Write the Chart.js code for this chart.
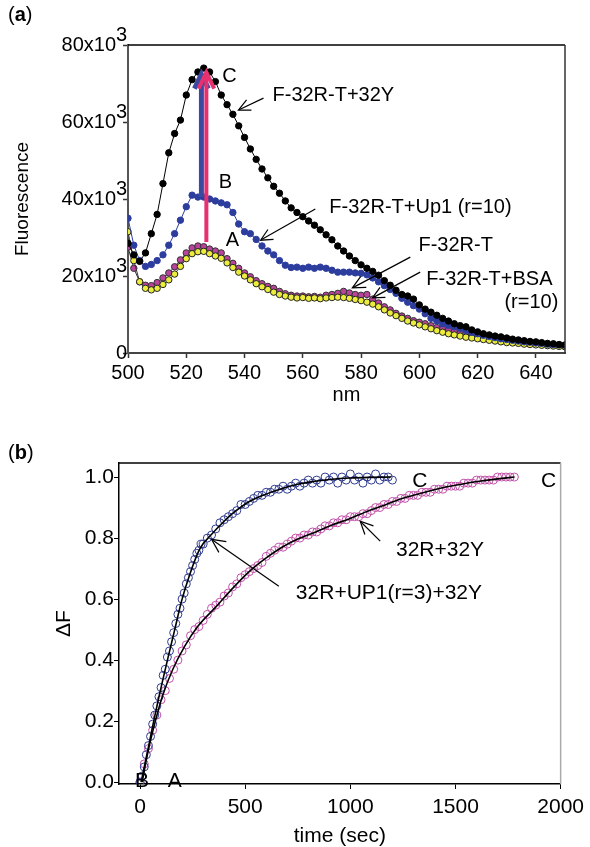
<!DOCTYPE html>
<html>
<head>
<meta charset="utf-8">
<script src="https://cdn.jsdelivr.net/npm/chart.js@4.4.1/dist/chart.umd.min.js"></script>
<style>
  body { margin: 0; background: #fff; }
  canvas { display: block; }
</style>
</head>
<body>
<canvas id="chartA" width="590" height="420"></canvas>
<canvas id="chartB" width="590" height="427"></canvas>
<script>
const FONT = '"Liberation Sans", Arial, sans-serif';

// ---- panel (a): emission spectra ----
const wavelengths = [
  500, 502, 504, 506, 508, 510, 512, 514, 516, 518,
  520, 522, 524, 526, 528, 530, 532, 534, 536, 538,
  540, 542, 544, 546, 548, 550, 552, 554, 556, 558,
  560, 562, 564, 566, 568, 570, 572, 574, 576, 578,
  580, 582, 584, 586, 588, 590, 592, 594, 596, 598,
  600, 602, 604, 606, 608, 610, 612, 614, 616, 618,
  620, 622, 624, 626, 628, 630, 632, 634, 636, 638,
  640, 642, 644, 646, 648, 650
];
const f32Y = [
  28500, 25500, 23800, 26000, 31000, 36000, 44000, 52000, 57000, 60500,
  67000, 71000, 73000, 74000, 73000, 70500, 67000, 64500, 62000, 59000,
  56000, 53000, 50300, 47800, 45500, 43300, 41500, 39500, 37700, 36500,
  35400, 34300, 33200, 32000, 30700, 29400, 27800, 26500, 25200, 24000,
  22900, 22000, 21200, 20200, 18800, 17600, 16300, 15200, 14800, 14000,
  12500, 11400, 10600, 9800, 9000, 8300, 7600, 7100, 6800, 6000,
  5500, 5000, 4700, 4400, 4200, 3900, 3600, 3400, 3200, 3000,
  2900, 2700, 2500, 2400, 2200, 2100
];
const fUp1 = [
  35000, 28000, 24000, 22500, 23000, 24000, 25500, 28000, 31000, 34500,
  38000, 41000, 40500, 40500, 40000, 39500, 39000, 38500, 36500, 33500,
  31500, 31000, 29500, 27800, 26500, 25500, 24000, 22800, 22200, 22300,
  22000, 22300, 22000, 22300, 22000, 21500, 21000, 21000, 21000, 20800,
  20700, 20300, 19500, 18500, 17500, 16500, 15500, 14200, 13200, 12300,
  11400, 10200, 9000, 8300, 7600, 7200, 6800, 6400, 5900, 5400,
  5000, 4600, 4300, 4000, 3700, 3500, 3300, 3100, 2900, 2800,
  2600, 2500, 2300, 2200, 2100, 2000
];
const f32RT = [
  27500, 22000, 18500, 17600, 17500, 18300, 19500, 20800, 22400, 24200,
  26000, 27300, 27800, 27600, 27000, 26500, 26000, 24500, 23300, 22000,
  20800, 19800, 18800, 18000, 17300, 16800, 16000, 15400, 15000, 14800,
  14800, 14600, 14700, 14500, 15000, 15200, 15500, 16000, 15600, 15200,
  15000, 15200, 14000, 13000, 12000, 11200, 10300, 9600, 9000, 8400,
  8000, 7600, 7100, 6600, 6200, 5900, 5500, 5200, 5000, 4800,
  4600, 4300, 4000, 3800, 3600, 3400, 3200, 3000, 2800, 2600,
  2500, 2400, 2200, 2100, 2000, 1900
];
const fBSA = [
  31500, 24000, 18500, 16800, 16400, 16800, 17800, 19000, 20500, 22500,
  24500, 25800, 26300, 26400, 25800, 25200, 24600, 23400, 22200, 21000,
  20000, 19000, 18000, 17200, 16500, 15800, 15200, 14800, 14500, 14300,
  14400, 14200, 14300, 14100, 14300, 14400, 14500, 14400, 14200, 13900,
  13600, 13200, 12700, 12000, 11200, 10400, 9700, 9000, 8300, 7800,
  7300, 6800, 6300, 5800, 5400, 5000, 4700, 4400, 4100, 3900,
  3700, 3500, 3300, 3100, 2900, 2700, 2600, 2500, 2300, 2200,
  2100, 2000, 1900, 1800, 1700, 1600
];
const nmTicks = [500, 520, 540, 560, 580, 600, 620, 640];
const fluorTicks = [0, 20000, 40000, 60000, 80000];

// ---- panel (b): kinetics ----
const timeUp1 = [
  0, 10, 20, 30, 40, 50, 60, 70, 80, 90, 100, 110, 120, 130, 140, 150,
  160, 170, 180, 190, 200, 210, 220, 230, 240, 250, 260, 270, 280, 290, 300,
  320, 340, 360, 380, 400, 420, 440, 460, 480, 500, 520, 540, 560, 580, 600,
  620, 640, 660, 680, 700, 720, 740, 760, 780, 800, 820, 840, 860, 880, 900,
  920, 940, 960, 980, 1000, 1020, 1040, 1060, 1080, 1100, 1120, 1140, 1160, 1180, 1200
];
const dfUp1 = [
  0.00, 0.02, 0.05, 0.09, 0.12, 0.15, 0.19, 0.22, 0.25, 0.28, 0.31, 0.35, 0.37, 0.41, 0.43, 0.46,
  0.49, 0.52, 0.55, 0.57, 0.60, 0.62, 0.65, 0.67, 0.69, 0.71, 0.73, 0.75, 0.76, 0.78, 0.78,
  0.80, 0.81, 0.83, 0.85, 0.86, 0.87, 0.88, 0.89, 0.91, 0.91, 0.92, 0.93, 0.94, 0.94, 0.95,
  0.95, 0.96, 0.96, 0.97, 0.96, 0.97, 0.98, 0.97, 0.98, 0.99, 0.98, 0.99, 0.98, 1.00, 0.99,
  1.00, 0.98, 1.00, 0.99, 1.01, 0.99, 1.00, 0.98, 1.00, 0.99, 1.01, 0.99, 1.00, 1.00, 0.99
];
const time32Y = [
  0, 20, 40, 60, 80, 100, 120, 140, 160, 180, 200, 220, 240, 260, 280, 300,
  320, 340, 360, 380, 400, 420, 440, 460, 480, 500, 520, 540, 560, 580, 600,
  620, 640, 660, 680, 700, 720, 740, 760, 780, 800, 820, 840, 860, 880, 900,
  920, 940, 960, 980, 1000, 1020, 1040, 1060, 1080, 1100, 1120, 1140, 1160, 1180, 1200,
  1220, 1240, 1260, 1280, 1300, 1320, 1340, 1360, 1380, 1400, 1420, 1440, 1460, 1480, 1500,
  1520, 1540, 1560, 1580, 1600, 1620, 1640, 1660, 1680, 1700, 1720, 1740, 1760, 1780
];
const df32Y = [
  0.00, 0.06, 0.11, 0.17, 0.22, 0.27, 0.30, 0.34, 0.37, 0.40, 0.43, 0.45, 0.48, 0.50, 0.51, 0.53,
  0.55, 0.57, 0.58, 0.59, 0.61, 0.62, 0.64, 0.65, 0.67, 0.68, 0.69, 0.70, 0.71, 0.72, 0.74,
  0.75, 0.76, 0.77, 0.77, 0.78, 0.79, 0.80, 0.80, 0.81, 0.81, 0.82, 0.82, 0.83, 0.84, 0.84,
  0.85, 0.85, 0.86, 0.86, 0.87, 0.87, 0.87, 0.88, 0.88, 0.89, 0.90, 0.90, 0.91, 0.91, 0.92,
  0.92, 0.93, 0.93, 0.94, 0.94, 0.94, 0.95, 0.95, 0.95, 0.96, 0.96, 0.96, 0.97, 0.97, 0.97,
  0.97, 0.98, 0.98, 0.98, 0.99, 0.99, 0.99, 0.99, 0.99, 1.00, 1.00, 1.00, 1.00, 1.00
];
const fitTimeUp1 = [5, 20, 40, 65, 90, 110, 132, 165, 198, 236, 283, 344, 400, 439, 520, 599, 680, 755, 830, 910, 1000, 1100, 1193];
const fitUp1 = [0, 0.05, 0.115, 0.2, 0.28, 0.34, 0.405, 0.5, 0.595, 0.68, 0.763, 0.815, 0.855, 0.88, 0.92, 0.944, 0.963, 0.977, 0.986, 0.993, 0.997, 0.999, 1.0];
const fitTime32Y = [10, 38, 71, 108, 156, 212, 274, 363, 440, 519, 600, 675, 750, 835, 910, 991, 1071, 1150, 1226, 1300, 1380, 1460, 1540, 1620, 1700, 1780];
const fit32Y = [0, 0.1, 0.195, 0.285, 0.37, 0.445, 0.51, 0.576, 0.635, 0.69, 0.735, 0.77, 0.797, 0.82, 0.842, 0.862, 0.885, 0.905, 0.925, 0.94, 0.955, 0.968, 0.978, 0.987, 0.994, 1.0];
const dfTicks = [0, 0.2, 0.4, 0.6, 0.8, 1.0];
const timeTicks = [0, 500, 1000, 1500, 2000];

const pts = (xs, ys) => xs.map((x, i) => ({ x, y: ys[i] }));

function drawArrow(ctx, x1, y1, x2, y2, color, width, head) {
  const ang = Math.atan2(y1 - y2, x1 - x2);
  ctx.strokeStyle = color;
  ctx.lineWidth = width;
  ctx.beginPath();
  ctx.moveTo(x1, y1);
  ctx.lineTo(x2 + Math.cos(ang) * width * 0.6, y2 + Math.sin(ang) * width * 0.6);
  ctx.stroke();
  ctx.beginPath();
  ctx.moveTo(x2 + head * Math.cos(ang - 0.45), y2 + head * Math.sin(ang - 0.45));
  ctx.lineTo(x2, y2);
  ctx.lineTo(x2 + head * Math.cos(ang + 0.45), y2 + head * Math.sin(ang + 0.45));
  ctx.stroke();
}

// frame, arrows, text labels, panel letter
const extras = {
  id: 'extras',
  afterDatasetsDraw(chart, args, o) {
    const { ctx, chartArea: a, scales: { x, y } } = chart;
    ctx.save();
    ctx.lineWidth = 1.5;
    ctx.strokeStyle = o.topColor;
    ctx.beginPath(); ctx.moveTo(a.left, a.top); ctx.lineTo(a.right, a.top); ctx.stroke();
    ctx.strokeStyle = o.rightColor;
    ctx.beginPath(); ctx.moveTo(a.right, a.top); ctx.lineTo(a.right, a.bottom); ctx.stroke();

    ctx.lineJoin = 'miter';
    o.arrows.forEach(r => drawArrow(ctx,
      x.getPixelForValue(r[0]), y.getPixelForValue(r[1]),
      x.getPixelForValue(r[2]), y.getPixelForValue(r[3]), r[4], r[5], r[6]));

    ctx.fillStyle = '#000';
    ctx.font = o.size + 'px ' + FONT;
    ctx.textBaseline = 'middle';
    o.labels.forEach(l => {
      ctx.textAlign = l[3];
      ctx.fillText(l[0], x.getPixelForValue(l[1]), y.getPixelForValue(l[2]));
    });

    // y tick labels with raised exponent (panel a)
    if (o.expTicks) {
      const px = a.left;
      fluorTicks.forEach(v => {
        const py = y.getPixelForValue(v);
        if (v === 0) {
          ctx.textAlign = 'right';
          ctx.fillText('0', px - 1, py);
        } else {
          ctx.textAlign = 'right';
          ctx.fillText((v / 1000) + 'x10', px - 12, py);
          ctx.textAlign = 'left';
          ctx.fillText('3', px - 12, py - 10);
        }
      });
    }

    // panel letter "(a)" / "(b)"
    ctx.textAlign = 'left';
    let tx = 8;
    ctx.font = '20px ' + FONT;
    ctx.fillText('(', tx, o.tagY); tx += ctx.measureText('(').width;
    ctx.font = 'bold 20px ' + FONT;
    ctx.fillText(o.tag, tx, o.tagY); tx += ctx.measureText(o.tag).width;
    ctx.font = '20px ' + FONT;
    ctx.fillText(')', tx, o.tagY);
    ctx.restore();
  }
};

const spectrum = (data, fill, edge, line) => ({
  data: pts(wavelengths, data),
  borderColor: line,
  borderWidth: 1,
  backgroundColor: fill,
  pointBackgroundColor: fill,
  pointBorderColor: edge,
  pointBorderWidth: 1,
  pointRadius: 3.2,
  tension: 0
});

new Chart(document.getElementById('chartA'), {
  type: 'line',
  data: {
    datasets: [
      spectrum(f32Y, '#000', '#000', '#000'),
      spectrum(fUp1, '#2c3d9e', '#2c3d9e', '#2c3d9e'),
      spectrum(fBSA, '#ecec3c', '#222', '#333'),
      spectrum(f32RT, '#b8449c', '#333', '#333')
    ]
  },
  options: {
    responsive: false,
    animation: false,
    layout: { padding: { top: 45, right: 25, left: 0, bottom: 0 } },
    plugins: {
      legend: { display: false },
      tooltip: { enabled: false },
      extras: {
        topColor: '#000', rightColor: '#333', size: 20, tag: 'a', tagY: 15, expTicks: true,
        arrows: [
          [525.2, 40500, 525.2, 72400, '#3b4aa0', 5, 16],
          [526.9, 28800, 526.9, 72900, '#e6306f', 4, 18],
          [546.5, 66200, 537.9, 63100, '#000', 1.2, 13],
          [564.3, 37400, 545.5, 29300, '#000', 1.2, 13],
          [596.9, 24900, 577.0, 16900, '#000', 1.2, 14],
          [600.3, 21000, 583.9, 14300, '#000', 1.2, 13]
        ],
        labels: [
          ['C', 534.8, 71700, 'center'],
          ['B', 533.4, 44400, 'center'],
          ['A', 535.8, 29300, 'center'],
          ['F-32R-T+32Y', 549.6, 67000, 'left'],
          ['F-32R-T+Up1 (r=10)', 569.1, 37900, 'left'],
          ['F-32R-T', 599.7, 28000, 'left'],
          ['F-32R-T+BSA', 602.4, 19000, 'left'],
          ['(r=10)', 647.7, 13000, 'right']
        ]
      }
    },
    scales: {
      x: {
        type: 'linear', min: 500, max: 650,
        afterBuildTicks: s => { s.ticks = nmTicks.map(v => ({ value: v })); },
        afterFit: s => { s.height = 67; },
        ticks: { color: '#000', font: { family: FONT, size: 20 }, padding: 3, maxRotation: 0, callback: v => String(v) },
        grid: { drawOnChartArea: false, tickLength: 5, color: '#333', tickWidth: 1.5 },
        border: { color: '#444', width: 2 },
        title: { display: true, text: 'nm', color: '#000', font: { family: FONT, size: 20 }, padding: { top: 0, bottom: 13 } }
      },
      y: {
        type: 'linear', min: 0, max: 80000,
        afterBuildTicks: s => { s.ticks = fluorTicks.map(v => ({ value: v })); },
        afterFit: s => { s.width = 128; },
        ticks: { display: false },
        grid: { drawOnChartArea: false, tickLength: 5, color: '#333', tickWidth: 1.5 },
        border: { color: '#555', width: 2 },
        title: { display: true, text: 'Fluorescence', color: '#000', font: { family: FONT, size: 19 }, padding: { top: 11, bottom: 0 } }
      }
    }
  },
  plugins: [extras]
});

const circles = (xs, ys, color) => ({
  data: pts(xs, ys),
  showLine: false,
  pointStyle: 'circle',
  pointRadius: 4,
  pointBorderWidth: 1,
  pointBackgroundColor: 'rgba(0,0,0,0)',
  pointBorderColor: color
});
const fitLine = (xs, ys) => ({
  data: pts(xs, ys),
  borderColor: '#000',
  borderWidth: 1.6,
  pointRadius: 0,
  cubicInterpolationMode: 'monotone'
});

new Chart(document.getElementById('chartB'), {
  type: 'line',
  data: {
    datasets: [
      fitLine(fitTimeUp1, fitUp1),
      fitLine(fitTime32Y, fit32Y),
      circles(timeUp1, dfUp1, '#2e3b8f'),
      circles(time32Y, df32Y, '#c150a8')
    ]
  },
  options: {
    responsive: false,
    animation: false,
    layout: { padding: { top: 43, right: 26, left: 0, bottom: 0 } },
    plugins: {
      legend: { display: false },
      tooltip: { enabled: false },
      extras: {
        topColor: '#000', rightColor: '#aaa', size: 21, tag: 'b', tagY: 33, expTicks: false,
        arrows: [
          [1142, 0.79, 1047, 0.855, '#000', 1.2, 14],
          [660, 0.642, 340, 0.796, '#000', 1.2, 15]
        ],
        labels: [
          ['C', 1330, 0.987, 'center'],
          ['C', 1943, 0.987, 'center'],
          ['B', 9, 0.003, 'center'],
          ['A', 165, 0.003, 'center'],
          ['32R+32Y', 1217, 0.76, 'left'],
          ['32R+UP1(r=3)+32Y', 741, 0.619, 'left']
        ]
      }
    },
    scales: {
      x: {
        type: 'linear', min: -100, max: 2000,
        afterBuildTicks: s => { s.ticks = timeTicks.map(v => ({ value: v })); },
        afterFit: s => { s.height = 63; },
        ticks: { color: '#000', font: { family: FONT, size: 21 }, padding: 6, maxRotation: 0, callback: v => String(v) },
        grid: { drawOnChartArea: false, tickLength: 5, color: '#000' },
        border: { color: '#000', width: 1.5 },
        title: { display: true, text: 'time (sec)', color: '#000', font: { family: FONT, size: 21, lineHeight: 1 }, padding: { top: 0, bottom: 0 } }
      },
      y: {
        type: 'linear', min: -0.006, max: 1.046,
        afterBuildTicks: s => { s.ticks = dfTicks.map(v => ({ value: v })); },
        afterFit: s => { s.width = 119; },
        ticks: { color: '#000', font: { family: FONT, size: 21 }, padding: 0, callback: v => v.toFixed(1) },
        grid: { drawOnChartArea: false, tickLength: 5, color: '#000' },
        border: { color: '#000', width: 1.5 },
        title: { display: true, text: 'ΔF', color: '#000', font: { family: FONT, size: 21 }, padding: { top: 52, bottom: 0 } }
      }
    }
  },
  plugins: [extras]
});
</script>
</body>
</html>
